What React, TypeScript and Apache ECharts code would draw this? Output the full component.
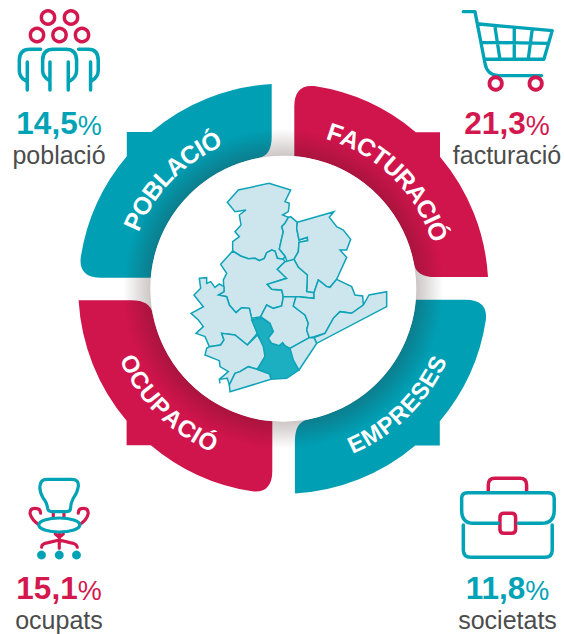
import React, { useEffect, useRef } from "react";
import * as echarts from "echarts";

const TEAL = "#009fb4";
const CRIMSON = "#d0144c";
const ICON_TEAL = "#00a3b6";
const ICON_CRIMSON = "#d2184f";
const GREY = "#4c4c4c";
const FONT = '"Liberation Sans", Arial, sans-serif';

const bandLabels = ["POBLACIÓ", "FACTURACIÓ", "EMPRESES", "OCUPACIÓ"];
const percentValues = ["14,5", "21,3", "11,8", "15,1"];
const statLabels = ["població", "facturació", "societats", "ocupats"];

// outlines, in 3x crop coordinates
const regionOutlines: Record<string, number[][]> = {
  "Berguedà": [[172,97],[205,60],[297,40],[362,60],[345,95],[358,100],[355,125],[338,135],[355,142],[345,160],[335,170],[340,185],[335,205],[328,237],[345,258],[340,268],[322,265],[315,243],[305,240],[290,248],[283,265],[268,272],[255,265],[235,266],[212,258],[188,243],[188,215],[208,200],[195,185],[213,165],[208,135],[228,120],[195,125]],
  "Lluçanès": [[362,140],[382,157],[380,175],[387,210],[412,202],[413,212],[387,217],[385,245],[372,268],[352,277],[345,258],[328,237],[335,205],[340,185],[335,170],[345,160],[355,142]],
  "Osona": [[382,157],[492,125],[478,142],[500,170],[520,180],[542,208],[530,240],[510,240],[530,262],[500,328],[480,352],[470,350],[445,330],[432,368],[410,365],[412,315],[385,292],[372,268],[385,245],[387,217],[413,212],[412,202],[387,210],[380,175]],
  "Bages": [[152,283],[188,243],[212,258],[235,266],[255,265],[268,272],[283,265],[290,248],[305,240],[315,243],[322,265],[340,268],[345,275],[322,298],[350,325],[292,343],[305,358],[335,360],[340,380],[335,408],[310,415],[290,405],[272,440],[245,445],[238,415],[215,413],[198,428],[178,405],[170,380],[145,375],[162,365],[160,330],[170,310]],
  "Moianès": [[345,275],[372,268],[385,292],[412,315],[410,365],[432,368],[432,385],[385,380],[378,380],[340,380],[335,360],[305,358],[292,343],[350,325],[322,298]],
  "Anoia": [[88,325],[110,323],[110,340],[122,335],[135,352],[148,342],[162,350],[162,365],[145,375],[170,380],[178,405],[198,428],[215,413],[238,415],[245,445],[262,490],[232,525],[195,495],[155,490],[162,510],[152,525],[118,530],[105,500],[78,490],[100,470],[85,450],[63,430],[100,410],[72,375],[92,355]],
  "Alt Penedès": [[118,530],[152,525],[162,510],[155,490],[195,495],[232,525],[262,495],[285,530],[285,560],[262,598],[235,590],[210,605],[195,610],[178,645],[172,625],[148,628],[150,640],[148,628],[175,605],[150,590],[148,572],[105,555],[110,535]],
  "Garraf": [[178,645],[195,610],[210,605],[235,590],[262,598],[300,612],[303,628],[180,665]],
  "Baix Llobregat": [[245,450],[272,443],[300,460],[310,485],[295,505],[305,520],[328,527],[338,518],[345,527],[360,535],[370,570],[387,600],[350,625],[303,628],[300,612],[262,598],[285,560],[280,530],[262,490]],
  "Vallès Occidental": [[272,440],[290,405],[310,415],[335,408],[340,380],[378,380],[370,408],[385,420],[405,435],[415,460],[410,480],[418,503],[360,535],[345,527],[338,518],[328,527],[305,520],[295,505],[310,485],[300,460]],
  "Vallès Oriental": [[385,380],[432,385],[432,368],[445,330],[470,350],[480,352],[500,328],[545,350],[555,375],[578,378],[580,405],[545,430],[510,425],[490,445],[465,490],[432,500],[418,503],[410,480],[415,460],[405,435],[385,420],[370,408],[378,380]],
  "Maresme": [[432,503],[465,490],[490,445],[510,425],[545,430],[580,405],[597,375],[650,365],[650,410],[440,520]],
  "Barcelonès": [[418,503],[432,503],[440,520],[387,600],[370,570],[360,535]],
};
const highlightedRegion = "Baix Llobregat";

const CX = 283.3;
const CY = 288.7;

const BAND_D =
  "M-11.6 -204.7L-11.6 -152Q-11.6 -133 -25 -130.7A133 133 0 0 0 -132.5 -11L-182 -11Q-204.7 -11 -202.6 -31A205 205 0 0 1 -156.5 -132.5L-156.5 -156.7L-132 -156.7A205 205 0 0 1 -11.6 -204.7Z";

const ICONS: Record<string, string> = {
  peopleTeal:
    "M122 148H90Q58 148 58 182V212Q58 232 76 242M82 186V270M160 148H198Q230 148 230 182V212Q230 232 210 243M160 148Q128 148 128 182V212Q128 232 150 243M150 186V270M205 186V270M236 148H265Q295 148 295 182V212Q295 232 276 242M272 186V270",
  cartTeal:
    "M55 35H90L120 190Q126 225 160 227H290M102 72L322 92L297 178H120M150 80L165 178M208 85V178M262 88L250 178M110 127L310 130",
  chairTeal:
    "M140 28H215Q238 28 235 50Q232 70 220 85Q212 100 212 115Q212 125 200 125H155Q145 125 143 115Q140 95 130 85Q118 65 120 48Q122 28 140 28Z",
  chairCrimson:
    "M118 165Q95 150 90 130Q90 115 105 115Q122 115 122 130M238 165Q262 150 265 130Q265 115 250 115Q235 115 235 130M160 125V145M192 125V145M166 192L178 202L190 192M178 190V235M125 232Q125 220 145 218L178 210L210 218Q230 220 232 232",
  caseCrimson:
    "M130 65V45Q130 25 150 25H225Q245 25 245 45V65M177 130H200Q212 130 212 142V178Q212 190 200 190H177Q165 190 165 178V142Q165 130 177 130Z",
  caseTeal:
    "M160 160H85Q50 160 50 120V85Q50 68 68 68H310Q328 68 328 85V120Q328 160 290 160H220M55 165V240Q55 262 78 262H300Q322 262 322 240V165",
};

const toPage = (p: number[]) => [p[0] / 3 + 170, p[1] / 3 + 170];

function icon(name: string, x: number, y: number, color: string, lw = 10.5) {
  return {
    type: name,
    x,
    y,
    scaleX: 1 / 3,
    scaleY: 1 / 3,
    silent: true,
    style: { fill: "none", stroke: color, lineWidth: lw, lineCap: "round", lineJoin: "round" },
  };
}
function ring(x: number, y: number, r: number, color: string, lw = 3.4) {
  return { type: "circle", shape: { cx: x, cy: y, r }, silent: true, style: { fill: "none", stroke: color, lineWidth: lw } };
}
function dot(x: number, y: number, r: number, color: string) {
  return { type: "circle", shape: { cx: x, cy: y, r }, silent: true, style: { fill: color } };
}
function stat(x: number, baseline: number, pct: string, label: string, labelBaseline: number, color: string) {
  return [
    {
      type: "text",
      x,
      y: baseline + 4,
      silent: true,
      style: {
        text: `{n|${pct}}{p|%}`,
        align: "center",
        verticalAlign: "bottom",
        rich: {
          n: { font: `bold 31.5px ${FONT}`, fill: color, lineHeight: 30, verticalAlign: "bottom" },
          p: { font: `27px ${FONT}`, fill: color, lineHeight: 30, verticalAlign: "bottom" },
        },
      },
    },
    {
      type: "text",
      x,
      y: labelBaseline + 5,
      silent: true,
      style: { text: label, font: `25px ${FONT}`, fill: GREY, align: "center", verticalAlign: "bottom" },
    },
  ];
}

function arcText(text: string, midDeg: number, radius: number, size: number, bottom: boolean) {
  const ctx = document.createElement("canvas").getContext("2d")!;
  const font = `bold ${size}px ${FONT}`;
  ctx.font = font;
  const widths = Array.from(text).map((c) => ctx.measureText(c).width);
  const total = widths.reduce((a, b) => a + b, 0);
  const mid = (midDeg * Math.PI) / 180;
  let acc = -total / 2;
  return Array.from(text).map((c, i) => {
    const phi = mid + (acc + widths[i] / 2) / radius;
    acc += widths[i];
    const x = CX + radius * Math.sin(phi);
    const y = bottom ? CY + radius * Math.cos(phi) : CY - radius * Math.cos(phi);
    return {
      type: "text",
      x,
      y,
      rotation: bottom ? phi : -phi,
      silent: true,
      style: { text: c, font, fill: "#ffffff", align: "center", verticalAlign: "middle" },
    };
  });
}

export default function App() {
  const ref = useRef<HTMLDivElement>(null);
  useEffect(() => {
    echarts.graphic.registerShape("band", echarts.graphic.extendPath(BAND_D, {}));
    Object.keys(ICONS).forEach((k) =>
      echarts.graphic.registerShape(k, echarts.graphic.extendPath(ICONS[k], {}))
    );

    const features = Object.keys(regionOutlines).map((name) => {
      const ring = regionOutlines[name].map(toPage).map((p) => [p[0], -p[1]]);
      ring.push(ring[0]);
      return { type: "Feature", properties: { name }, geometry: { type: "Polygon", coordinates: [ring] } };
    });
    echarts.registerMap("comarques", { type: "FeatureCollection", features } as any);
    const all = Object.values(regionOutlines).flat().map(toPage);
    const xs = all.map((p) => p[0]);
    const ys = all.map((p) => p[1]);
    const minX = Math.min(...xs);
    const maxX = Math.max(...xs);
    const minY = Math.min(...ys);
    const maxY = Math.max(...ys);

    const chart = echarts.init(ref.current!, undefined, { renderer: "svg" });
    const bands = [TEAL, CRIMSON, TEAL, CRIMSON].map((color, k) => ({
      type: "band",
      x: CX,
      y: CY,
      rotation: (-k * Math.PI) / 2,
      silent: true,
      style: { fill: color },
    }));
    const R0 = 133;
    const R1 = 160;
    const shade = {
      type: "circle",
      shape: { cx: CX, cy: CY, r: R1 },
      silent: true,
      style: {
        fill: new echarts.graphic.RadialGradient(0.5, 0.5, 0.5, [
          { offset: 0, color: "rgba(50,20,20,0.24)" },
          { offset: R0 / R1, color: "rgba(50,20,20,0.24)" },
          { offset: 1, color: "rgba(50,20,20,0)" },
        ]),
      },
    };
    const white = {
      type: "circle",
      shape: { cx: CX, cy: CY, r: R0 },
      silent: true,
      style: { fill: "#ffffff" },
    };

    chart.setOption({
      animation: false,
      backgroundColor: "#ffffff",
      tooltip: { show: false },
      graphic: {
        elements: [
          ...bands,
          shade,
          white,
          ...arcText(bandLabels[0], -45.7, 163.5, 24.8, false),
          ...arcText(bandLabels[1], 44.4, 164, 24.8, false),
          ...arcText(bandLabels[2], 44.5, 171, 23.5, true),
          ...arcText(bandLabels[3], -45, 170, 24, true),

          // people
          icon("peopleTeal", 0, 0, ICON_TEAL),
          ring(48, 17.5, 6.7, ICON_CRIMSON),
          ring(71, 17.5, 6.7, ICON_CRIMSON),
          ring(37, 35, 6.7, ICON_CRIMSON),
          ring(59.5, 35, 6.7, ICON_CRIMSON),
          ring(82, 35, 6.7, ICON_CRIMSON),
          ...stat(59, 135, percentValues[0], statLabels[0], 162, ICON_TEAL),

          // cart
          icon("cartTeal", 445, 0, ICON_TEAL, 10),
          ring(445 + 152 / 3, 83.5, 6.2, ICON_CRIMSON, 3.8),
          ring(445 + 272 / 3, 83.5, 6.2, ICON_CRIMSON, 3.8),
          ...stat(507, 135, percentValues[1], statLabels[1], 162, ICON_CRIMSON),

          // briefcase
          icon("caseCrimson", 445, 470, ICON_CRIMSON),
          icon("caseTeal", 445, 470, ICON_TEAL),
          ...stat(507.5, 600, percentValues[2], statLabels[2], 627, ICON_TEAL),

          // chair
          icon("chairCrimson", 0, 470, ICON_CRIMSON, 9.5),
          icon("chairTeal", 0, 470, ICON_TEAL, 9.5),
          {
            type: "ellipse",
            shape: { cx: 59.3, cy: 470 + 55, rx: 20.5, ry: 7 },
            silent: true,
            style: { fill: "#ffffff", stroke: ICON_TEAL, lineWidth: 3.2 },
          },
          dot(41.5, 555, 4.4, ICON_TEAL),
          dot(59.3, 555, 4.4, ICON_TEAL),
          dot(76.5, 555, 4.4, ICON_TEAL),
          ...stat(59, 600, percentValues[3], statLabels[3], 627, ICON_CRIMSON),
        ],
      },
      series: [
        {
          type: "map",
          map: "comarques",
          z: 5,
          silent: true,
          roam: false,
          aspectScale: 1,
          left: minX,
          top: minY,
          width: maxX - minX,
          height: maxY - minY,
          label: { show: false },
          emphasis: { disabled: true },
          select: { disabled: true },
          itemStyle: { areaColor: "#cde5ec", borderColor: "#0fa3b8", borderWidth: 1.5 },
          data: Object.keys(regionOutlines).map((name) => ({
            name,
            itemStyle: name === highlightedRegion ? { areaColor: "#1cafc1" } : undefined,
          })),
        },
      ],
    } as any);
    return () => chart.dispose();
  }, []);
  return <div ref={ref} style={{ position: "absolute", left: 0, top: 0, width: 564, height: 634 }} />;
}
